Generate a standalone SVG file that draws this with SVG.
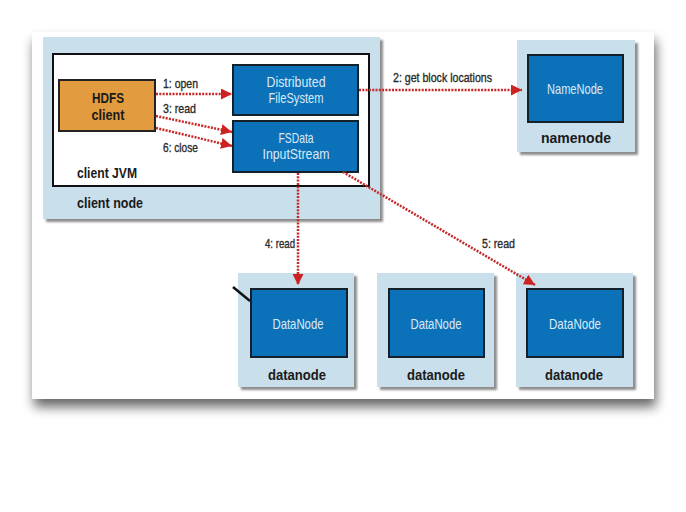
<svg xmlns="http://www.w3.org/2000/svg" width="686" height="512" viewBox="0 0 686 512">
<defs>
<filter id="cardShadow" x="-10%" y="-10%" width="125%" height="130%">
<feGaussianBlur in="SourceAlpha" stdDeviation="6"/>
<feOffset dx="2" dy="8" result="b"/>
<feComponentTransfer><feFuncA type="linear" slope="0.6"/></feComponentTransfer>
<feMerge><feMergeNode/><feMergeNode in="SourceGraphic"/></feMerge>
</filter>
<filter id="boxShadow" x="-10%" y="-10%" width="125%" height="125%">
<feGaussianBlur in="SourceAlpha" stdDeviation="1.2"/>
<feOffset dx="3" dy="3" result="b"/>
<feComponentTransfer><feFuncA type="linear" slope="0.45"/></feComponentTransfer>
<feMerge><feMergeNode/><feMergeNode in="SourceGraphic"/></feMerge>
</filter>
<marker id="arrow" viewBox="0 0 10 10" refX="10" refY="5" markerWidth="11" markerHeight="11" markerUnits="userSpaceOnUse" orient="auto">
<path d="M0,0 L10,5 L0,10 Z" fill="#cc2222"/>
</marker>
<style>
.outer{fill:#c9dfec;filter:url(#boxShadow);}
.blue{fill:#0b72b9;stroke:#15202b;stroke-width:2;}
.wt{font-family:"Liberation Sans",Arial,sans-serif;font-size:15px;fill:#dbe9f5;text-anchor:middle;}
.bl{font-family:"Liberation Sans",Arial,sans-serif;font-size:15px;font-weight:bold;fill:#1a1a1a;}
.lbl{font-family:"Liberation Sans",Arial,sans-serif;font-size:13px;fill:#2a2a2a;stroke:#2a2a2a;stroke-width:0.35;}
.conn{fill:none;stroke:#c62828;stroke-width:2.5;stroke-dasharray:2 1.3;marker-end:url(#arrow);}
</style>
</defs>
<rect width="686" height="512" fill="#ffffff"/>
<rect id="card" x="32" y="32" width="622" height="367" fill="#ffffff" filter="url(#cardShadow)"/>

<g id="client-node">
<rect class="outer" x="43" y="37" width="337" height="182"/>
<rect x="53" y="54" width="316" height="132" fill="#ffffff" stroke="#111" stroke-width="2"/>
<text class="bl" x="77" y="178" textLength="60" lengthAdjust="spacingAndGlyphs">client JVM</text>
<text class="bl" x="77" y="208" textLength="66" lengthAdjust="spacingAndGlyphs">client node</text>
</g>

<g id="hdfs-client">
<rect x="59" y="80" width="96" height="51" fill="#e29c3f" stroke="#222" stroke-width="2"/>
<text class="bl" x="108" y="103" text-anchor="middle" textLength="32" lengthAdjust="spacingAndGlyphs">HDFS</text>
<text class="bl" x="108" y="120" text-anchor="middle" textLength="33" lengthAdjust="spacingAndGlyphs">client</text>
</g>

<g id="distributed-filesystem">
<rect class="blue" x="233" y="65" width="125" height="50"/>
<text class="wt" x="296" y="87" textLength="59" lengthAdjust="spacingAndGlyphs">Distributed</text>
<text class="wt" x="296" y="103" textLength="55" lengthAdjust="spacingAndGlyphs">FileSystem</text>
</g>

<g id="fsdata-inputstream">
<rect class="blue" x="233" y="121" width="125" height="51"/>
<text class="wt" x="296" y="143" textLength="35" lengthAdjust="spacingAndGlyphs">FSData</text>
<text class="wt" x="296" y="159" textLength="67" lengthAdjust="spacingAndGlyphs">InputStream</text>
</g>

<g id="namenode">
<rect class="outer" x="517" y="40" width="118" height="112"/>
<rect class="blue" x="528" y="55" width="95" height="67"/>
<text class="wt" x="575" y="94" textLength="56" lengthAdjust="spacingAndGlyphs">NameNode</text>
<text class="bl" x="576" y="143" text-anchor="middle" textLength="70" lengthAdjust="spacingAndGlyphs">namenode</text>
</g>

<g id="datanode1">
<rect class="outer" x="238" y="273" width="116" height="114"/>
<rect class="blue" x="251" y="289" width="96" height="68"/>
<text class="wt" x="298" y="329" textLength="51" lengthAdjust="spacingAndGlyphs">DataNode</text>
<text class="bl" x="297" y="380" text-anchor="middle" textLength="58" lengthAdjust="spacingAndGlyphs">datanode</text>
<line x1="233" y1="287" x2="250" y2="301" stroke="#111" stroke-width="2.5"/>
</g>

<g id="datanode2">
<rect class="outer" x="377" y="273" width="117" height="114"/>
<rect class="blue" x="389" y="289" width="95" height="68"/>
<text class="wt" x="436" y="329" textLength="51" lengthAdjust="spacingAndGlyphs">DataNode</text>
<text class="bl" x="436" y="380" text-anchor="middle" textLength="58" lengthAdjust="spacingAndGlyphs">datanode</text>
</g>

<g id="datanode3">
<rect class="outer" x="516" y="273" width="117" height="114"/>
<rect class="blue" x="527" y="289" width="96" height="68"/>
<text class="wt" x="575" y="329" textLength="52" lengthAdjust="spacingAndGlyphs">DataNode</text>
<text class="bl" x="574" y="380" text-anchor="middle" textLength="58" lengthAdjust="spacingAndGlyphs">datanode</text>
</g>

<g id="connectors">
<line class="conn" x1="156" y1="94" x2="232" y2="94"/>
<line class="conn" x1="156" y1="116" x2="232" y2="132"/>
<line class="conn" x1="156" y1="128" x2="232" y2="146"/>
<line class="conn" x1="359" y1="90" x2="522" y2="90"/>
<line class="conn" x1="298" y1="173" x2="298" y2="285"/>
<line class="conn" x1="343" y1="172" x2="535" y2="285"/>
<text class="lbl" x="163" y="88" textLength="35" lengthAdjust="spacingAndGlyphs">1: open</text>
<text class="lbl" x="163" y="113" textLength="33" lengthAdjust="spacingAndGlyphs">3: read</text>
<text class="lbl" x="163" y="152" textLength="35" lengthAdjust="spacingAndGlyphs">6: close</text>
<text class="lbl" x="393" y="82" textLength="99" lengthAdjust="spacingAndGlyphs">2: get block locations</text>
<text class="lbl" x="265" y="248" textLength="30" lengthAdjust="spacingAndGlyphs">4: read</text>
<text class="lbl" x="482" y="248" textLength="33" lengthAdjust="spacingAndGlyphs">5: read</text>
</g>
</svg>
